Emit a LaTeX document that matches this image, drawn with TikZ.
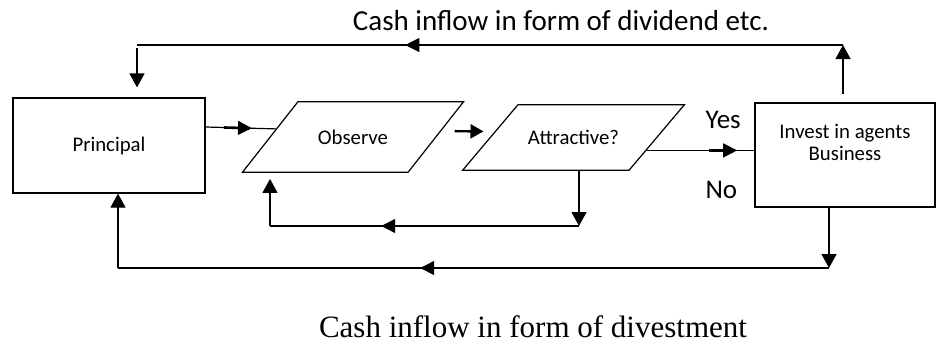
\documentclass[tikz,border=0pt]{standalone}
\usepackage{fontspec}
\setmainfont{Carlito}
\newfontfamily\capserif{Liberation Serif}
\usepackage{tikz}
\usetikzlibrary{arrows.meta,positioning,shapes.geometric,decorations.markings}

\tikzset{
  boxtext/.style={font=\fontsize{20.8}{22}\selectfont},
  flowbox/.style={draw, line width=1.2pt, rectangle, boxtext},
  slantbox/.style={draw, line width=1.2pt, trapezium, boxtext},
  tipped/.style={line width=1.2pt, -{Triangle[length=14pt,width=15pt]}},
  stubarrow/.style={line width=2.4pt, -{Triangle[length=13pt,width=14pt]}},
  midarrow/.style={line width=1.2pt, postaction={decorate},
    decoration={markings, mark=at position #1 with {\draw[line width=2.6pt] (-28pt,0) -- (-10pt,0); \arrow{Triangle[length=14pt,width=14pt]}}}},
  bigtext/.style={font=\fontsize{27}{30}\selectfont}
}

\begin{document}
\begin{tikzpicture}[x=1pt, y=-1pt]
                \useasboundingbox (0,0) rectangle (936,349);

                \node[flowbox, minimum width=192pt, minimum height=95pt] (principal) at (109,145.5) {Principal};
                \node[slantbox, inner xsep=20pt, inner ysep=28pt, trapezium left angle=51.8, trapezium right angle=128.2] (observe) at (353,137) {Observe};
                \node[slantbox, inner xsep=10pt, inner ysep=25.5pt, trapezium left angle=49.8, trapezium right angle=130.2] (attractive) at (573.5,137.5) {Attractive?};
                \node[flowbox, minimum width=180pt, minimum height=104pt,
                      label={[anchor=north, yshift=-18pt, align=center, boxtext]north:Invest in agents\\Business}] (invest) at (845,155) {};

                \node[bigtext, anchor=base west] (yes) at (702,128) {Yes};
                \node[bigtext, anchor=base west] (no) at (702,198) {No};
                \node[font=\fontsize{29}{32}\selectfont, anchor=base] (dividend) at (561,30) {Cash inflow in form of dividend etc.};
                \node[font=\capserif\fontsize{31}{34}\selectfont, anchor=base] (divestment) at (533,337) {Cash inflow in form of divestment};

                \coordinate (topright) at (843,45);
                \coordinate (topleft) at (137,45);
                \coordinate (botright) at (829,268);
                \coordinate (botleft) at (118,268);
                \coordinate (nobend) at (579,226);
                \coordinate (nobackbend) at (270,226);

                \draw[midarrow=0.66] ([yshift=18.5pt]principal.east) -- (observe.174);
                \draw[stubarrow, shorten <=18pt, shorten >=6pt] ([yshift=6pt]observe.east) -- ([yshift=6pt]attractive.west);
                \draw[midarrow=0.84] (attractive.-10) -- (attractive.-10 -| invest.west);

                \draw[tipped] (attractive.south -| nobend) -- (nobend);
                \draw[midarrow=0.64] (nobend) -- (nobackbend);
                \draw[tipped, shorten >=6pt] (nobackbend) -- (nobackbend |- observe.south);

                \draw[tipped, shorten <=8pt] (invest.north -| topright) -- (topright);
                \draw[midarrow=0.62] (topright) -- (topleft);
                \draw[tipped, shorten <=3pt, shorten >=10pt] (topleft) -- (topleft |- principal.north);

                \draw[tipped] (invest.south -| botright) -- (botright);
                \draw[midarrow=0.575] (botright) -- (botleft);
                \draw[tipped] (botleft) -- (botleft |- principal.south);
            \end{tikzpicture}
\end{document}
